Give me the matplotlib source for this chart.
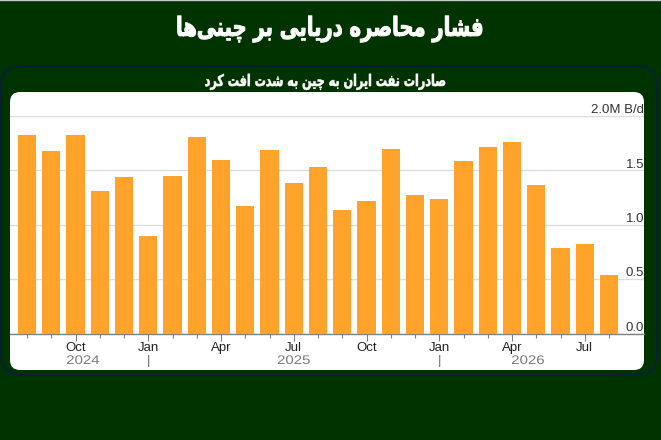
import unicodedata

import matplotlib
matplotlib.use("Agg")
import matplotlib.pyplot as plt
from matplotlib.patches import FancyBboxPatch
from matplotlib.patheffects import AbstractPathEffect
from matplotlib.transforms import Affine2D

title_text = "فشار محاصره دریایی بر چینی\u200cها"
subtitle_text = "صادرات نفت ایران به چین به شدت افت کرد"

months = ["Aug", "Sep", "Oct", "Nov", "Dec", "Jan", "Feb", "Mar", "Apr", "May", "Jun", "Jul",
          "Aug", "Sep", "Oct", "Nov", "Dec", "Jan", "Feb", "Mar", "Apr", "May", "Jun", "Jul", "Aug"]
exports = [1.83, 1.68, 1.83, 1.31, 1.44, 0.90, 1.45, 1.81, 1.60, 1.17, 1.69, 1.385, 1.53,
           1.14, 1.22, 1.70, 1.275, 1.24, 1.59, 1.715, 1.76, 1.37, 0.79, 0.825, 0.54]
quarter_months = ["Oct", "Jan", "Apr", "Jul"]
y_ticks = [0.0, 0.5, 1.0, 1.5, 2.0]
y_labels = ["0.0", "0.5", "1.0", "1.5", "2.0M B/d"]
# year label sits at a fractional bar position, separators on the January bars
year_labels = ["2024", "2025", "2026"]
year_positions = [2.31, 11.0, 20.66]
year_breaks = [5, 17]

GREEN = "#003300"
NAVY = "#0b1f3a"
ORANGE = "#ffa32b"

RIGHT_JOINERS = "اآأإدذرزژوؤة"


class StretchX(AbstractPathEffect):
    # squeeze or widen a text line around its own centre, DejaVu arabic is very wide
    def __init__(self, factor, stroke=0):
        super().__init__()
        self.factor = factor
        self.stroke = stroke

    def draw_path(self, renderer, gc, tpath, affine, rgbFace=None):
        box = affine.transform_path(tpath).get_extents()
        cx = (box.x0 + box.x1) / 2
        squeeze = Affine2D().translate(-cx, 0).scale(self.factor, 1).translate(cx, 0)
        gc0 = renderer.new_gc()
        gc0.copy_properties(gc)
        if self.stroke:
            gc0.set_linewidth(self.stroke)
            gc0.set_foreground(rgbFace)
        renderer.draw_path(gc0, tpath, affine + squeeze, rgbFace)
        gc0.restore()


def shape_farsi(text):
    # matplotlib has no arabic shaping, so pick presentation forms and reverse by hand
    chars = list(text)
    out = []
    for i, c in enumerate(chars):
        if c == " " or c == "\u200c":
            if c == " ":
                out.append(c)
            continue
        prev_c = chars[i - 1] if i > 0 else " "
        next_c = chars[i + 1] if i < len(chars) - 1 else " "
        joins_prev = prev_c not in " \u200c" and prev_c not in RIGHT_JOINERS
        joins_next = next_c not in " \u200c" and c not in RIGHT_JOINERS
        if joins_prev and joins_next:
            form = "MEDIAL"
        elif joins_prev:
            form = "FINAL"
        elif joins_next:
            form = "INITIAL"
        else:
            form = "ISOLATED"
        out.append(unicodedata.lookup(unicodedata.name(c) + " " + form + " FORM"))
    return "".join(reversed(out))


plt.rcParams["font.family"] = ["Liberation Sans", "DejaVu Sans"]

W, H = 661, 440
fig = plt.figure(figsize=(W / 100, H / 100), dpi=100, facecolor=GREEN)

bg = fig.add_axes([0, 0, 1, 1])
bg.set_xlim(0, W)
bg.set_ylim(H, 0)
bg.axis("off")
bg.axhline(0.5, color="#c8c8c8", lw=1)
bg.add_patch(FancyBboxPatch((1, 66), 656, 308.5, boxstyle="round,pad=0,rounding_size=20", fc=GREEN, ec=NAVY, lw=1.3))
bg.add_patch(FancyBboxPatch((10, 92), 634, 278, boxstyle="round,pad=0,rounding_size=10", fc="white", ec="none"))
bg.text(330, 29, shape_farsi(title_text), color="white", fontsize=19, fontweight="bold", family="DejaVu Sans",
        ha="center", va="center", path_effects=[StretchX(0.74, stroke=0.7)])
bg.text(326, 82, shape_farsi(subtitle_text), color="white", fontsize=11.5, fontweight="bold", family="DejaVu Sans",
        ha="center", va="center", path_effects=[StretchX(0.70, stroke=0.4)])

# axes spans the white panel, x unit = one month (24.25 px), y unit = 1M b/d (109 px)
ax = fig.add_axes([10 / W, 1 - 334 / H, 634 / W, 218 / H])
ax.patch.set_alpha(0)
ax.set_xlim((10 - 27) / 24.25, (644 - 27) / 24.25)
ax.set_ylim(0, 2.0)

x = list(range(len(exports)))
ax.bar(x, exports, width=0.75, color=ORANGE, zorder=3)

ax.grid(axis="y", color="#dcdcdc", lw=1)
ax.set_axisbelow(True)
for side in ["top", "left", "right"]:
    ax.spines[side].set_visible(False)
ax.spines["bottom"].set_color("#808080")
ax.spines["bottom"].set_linewidth(1)

ax.yaxis.tick_right()
ax.set_yticks(y_ticks)
ax.set_yticklabels(y_labels, fontsize=9.5, color="#333333", ha="right", va="bottom")
ax.tick_params(axis="y", length=0, pad=0)

ax.set_xticks(x)
ax.set_xticklabels([m if m in quarter_months else "" for m in months], fontsize=9.5, color="#222222")
ax.tick_params(axis="x", length=3, width=0.8, color="#808080", pad=3)
for t, m in zip(ax.xaxis.get_major_ticks(), months):
    if m in quarter_months:
        t.tick1line.set_markersize(5)

trans = ax.get_xaxis_transform()
for label, pos in zip(year_labels, year_positions):
    ax.text(pos, -27 / 218, label, transform=trans, fontsize=9, color="#7a7a7a", ha="center", va="center",
            path_effects=[StretchX(1.2)])
for pos in year_breaks:
    ax.text(pos, -27 / 218, "|", transform=trans, fontsize=9.5, color="#707070", ha="center", va="center")

fig.savefig("out.png", dpi=100, facecolor=GREEN)
